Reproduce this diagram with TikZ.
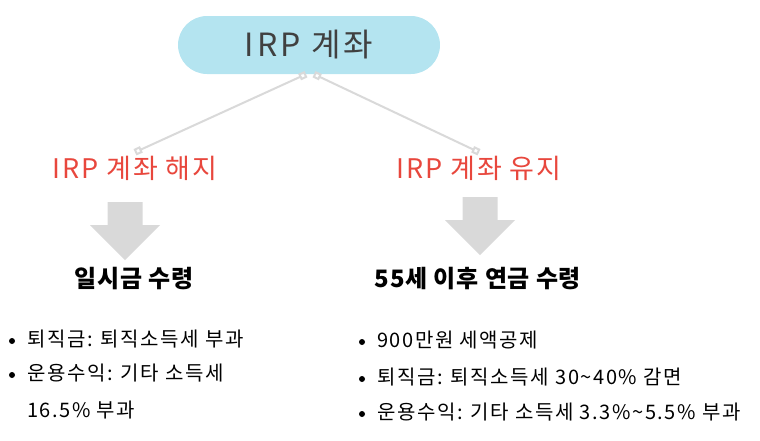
\documentclass[tikz,border=0pt]{standalone}
\usepackage{fontspec}
\setmainfont{Noto Sans CJK KR}
\usetikzlibrary{arrows.meta,positioning}
\definecolor{boxblue}{HTML}{B4E4F0}
\definecolor{titlegray}{HTML}{404040}
\definecolor{labelred}{HTML}{E8473D}
\definecolor{linkgray}{HTML}{D9D9D9}
\begin{document}
\begin{tikzpicture}[x=1pt, y=-1pt, line cap=round, line join=round,
    acctbox/.style={fill=boxblue, rounded corners=29pt, minimum width=262pt, minimum height=58pt,
        text=titlegray, font=\fontsize{32}{38}\selectfont\addfontfeature{LetterSpace=10}},
    choice/.style={text=labelred, font=\fontsize{27}{32}\selectfont\addfontfeature{LetterSpace=7}},
    result/.style={font=\bfseries\fontsize{24}{30}\selectfont\addfontfeature{LetterSpace=3}},
    itemtext/.style={anchor=west, inner sep=0pt, font=\fontsize{20}{24}\selectfont\addfontfeature{LetterSpace=8}},
    link/.style={draw=linkgray, line width=2pt,
        {Square[open,length=7pt,width=7pt]}-{Square[open,length=7pt,width=7pt]}},
    downarrow/.pic={\fill[linkgray] (-17.5,0) -- (17.5,0) -- (17.5,23) -- (35,23) -- (0,58)
        -- (-35,23) -- (-17.5,23) -- cycle;}]

                \useasboundingbox (0,0) rectangle (760,440);

                \node[acctbox] (acct) at (309,45) {IRP 계좌};

                \node[choice] (quit) at (135,168) {IRP 계좌 해지};
                \node[choice] (keep) at (479,168) {IRP 계좌 유지};

                \draw[link] ([xshift=-3pt]acct.south) -- (quit.north);
                \draw[link] ([xshift=5pt]acct.south) -- (keep.north);

                \pic at (125,202) {downarrow};
                \pic at (480,197) {downarrow};

                \node[result] (lump) at (134,279) {일시금 수령};
                \node[result] (pension) at (478,279) {55세 이후 연금 수령};

                \fill (12,341) circle (3);
                \fill (12,375) circle (3);
                \node[itemtext] (lumpa) at (27,339) {퇴직금: 퇴직소득세 부과};
                \node[itemtext] (lumpb) at (27,373) {운용수익: 기타 소득세};
                \node[itemtext] (lumpc) at (27,410) {16.5\% 부과};

                \fill (362,342) circle (3);
                \fill (362,379) circle (3);
                \fill (362,414) circle (3);
                \node[itemtext] (pensiona) at (377,340) {900만원 세액공제};
                \node[itemtext] (pensionb) at (377,377) {퇴직금: 퇴직소득세 30\textasciitilde 40\% 감면};
                \node[itemtext] (pensionc) at (377,412) {운용수익: 기타 소득세 3.3\%\textasciitilde 5.5\% 부과};

            \end{tikzpicture}
\end{document}
